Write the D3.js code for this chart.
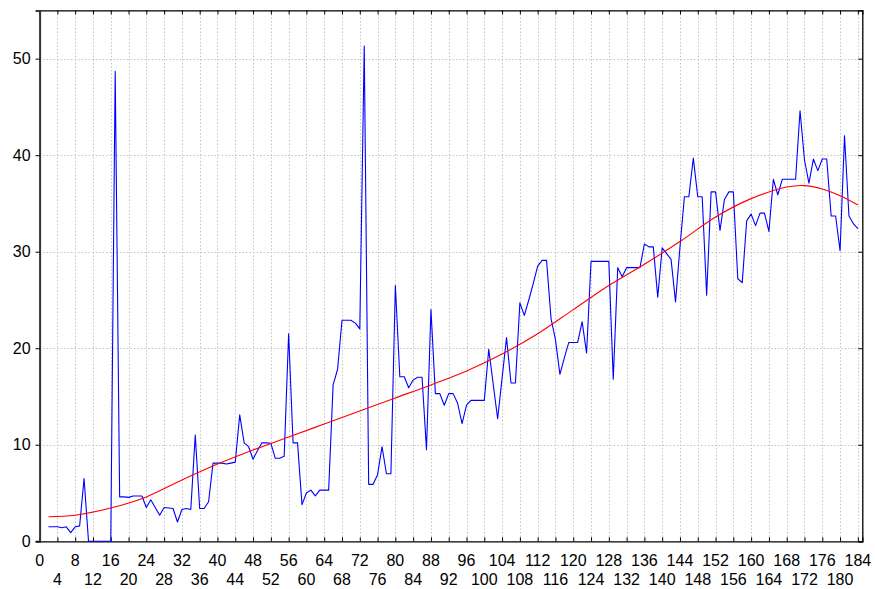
<!DOCTYPE html>
<html>
<head>
<meta charset="utf-8">
<script src="https://cdn.jsdelivr.net/npm/d3@7"></script>
<style>
  html, body { margin: 0; padding: 0; background: #fff; }
  svg { display: block; }
  text { font-family: "Liberation Sans", Arial, sans-serif; }
</style>
</head>
<body>
<svg id="chart" width="875" height="589"></svg>
<script>
// ---- data ----
const firstX = 2; // observed series starts at x = 2, one point per unit
const observed = [
  1.5, 1.5, 1.5, 1.4, 1.5, 0.9, 1.5, 1.6, 6.5, 0,        // 2-11
  0, 0, 0, 0, 0, 48.7, 4.6, 4.6, 4.55, 4.7,              // 12-21
  4.7, 4.7, 3.5, 4.3, 3.5, 2.7, 3.5, 3.45, 3.4, 2.0,     // 22-31
  3.3, 3.4, 3.3, 11.0, 3.4, 3.4, 4.1, 8.1, 8.1, 8.1,     // 32-41
  8.0, 8.1, 8.2, 13.1, 10.2, 9.8, 8.5, 9.4, 10.2, 10.2,  // 42-51
  10.15, 8.6, 8.6, 8.8, 21.5, 10.2, 10.2, 3.8, 5.0, 5.3, // 52-61
  4.7, 5.3, 5.3, 5.3, 16.2, 17.8, 22.9, 22.9, 22.9, 22.6,// 62-71
  22.0, 51.3, 5.9, 5.9, 6.9, 9.8, 7.0, 7.0, 26.5, 17.05, // 72-81
  17.05, 15.9, 16.7, 17.0, 17.0, 9.5, 24.0, 15.3, 15.3, 14.1, // 82-91
  15.3, 15.3, 14.3, 12.2, 14.1, 14.6, 14.6, 14.6, 14.6, 19.9, // 92-101
  16.3, 12.7, 16.9, 21.1, 16.4, 16.4, 24.7, 23.4, 25.0, 26.7, // 102-111
  28.5, 29.1, 29.1, 23.1, 20.9, 17.3, 19.0, 20.6, 20.6, 20.6, // 112-121
  22.75, 19.5, 29.0, 29.0, 29.0, 29.0, 29.0, 16.8, 28.35, 27.4, // 122-131
  28.35, 28.35, 28.35, 28.35, 30.8, 30.5, 30.5, 25.3, 30.4, 29.8, // 132-141
  29.2, 24.8, 30.5, 35.7, 35.7, 39.7, 35.7, 35.7, 25.5, 36.2, // 142-151
  36.2, 32.2, 35.4, 36.2, 36.2, 27.2, 26.8, 33.2, 33.9, 32.7, // 152-161
  34.0, 34.0, 32.1, 37.5, 35.9, 37.5, 37.5, 37.5, 37.5, 44.6, // 162-171
  39.5, 37.1, 39.6, 38.4, 39.6, 39.6, 33.7, 33.7, 30.1, 42.0, // 172-181
  33.7, 32.9, 32.4                                          // 182-184
];

const trendX = [2, 8, 16, 24, 32, 40, 48, 56, 64, 72, 80, 88, 96, 104, 112, 120, 128, 136, 144, 152, 160, 168, 172, 176, 180, 184];
const trendY = [2.55, 2.7, 3.45, 4.6, 6.35, 8.0, 9.46, 10.8, 12.15, 13.5, 14.85, 16.2, 17.65, 19.4, 21.5, 24.0, 26.5, 28.7, 31.05, 33.6, 35.5, 36.7, 36.85, 36.5, 35.8, 34.85];

const xTicks = [0,4,8,12,16,20,24,28,32,36,40,44,48,52,56,60,64,68,72,76,80,84,88,92,96,100,104,108,112,116,120,124,128,132,136,140,144,148,152,156,160,164,168,172,176,180,184];
const yTicks = [0, 10, 20, 30, 40, 50];

// ---- layout ----
const svg = d3.select("#chart");
const L = 39.6, R = 862.3, T = 10.4, B = 541.3;
const x = d3.scaleLinear().domain([0, 185]).range([L, R]);
const y = d3.scaleLinear().domain([0, 55]).range([B, T]);

// grid
const grid = svg.append("g").attr("stroke", "#c4c4c4").attr("stroke-width", 1).attr("stroke-dasharray", "1.5,2");
grid.selectAll("line.vx").data(xTicks.filter(d => d > 0)).enter().append("line")
  .attr("x1", d => Math.round(x(d)) + 0.5).attr("x2", d => Math.round(x(d)) + 0.5)
  .attr("y1", T).attr("y2", B);
grid.selectAll("line.hy").data(yTicks.filter(d => d > 0)).enter().append("line")
  .attr("y1", d => Math.round(y(d)) + 0.5).attr("y2", d => Math.round(y(d)) + 0.5)
  .attr("x1", L).attr("x2", R);

// axes (library axes, ticks pointing inward)
const xAxisB = d3.axisBottom(x).tickValues(xTicks).tickSize(-4).tickFormat("");
const gB = svg.append("g").attr("transform", `translate(0,${B})`).call(xAxisB);
const xAxisT = d3.axisTop(x).tickValues(xTicks).tickSize(-4).tickFormat("");
const gT = svg.append("g").attr("transform", `translate(0,${T})`).call(xAxisT);
const yAxisL = d3.axisLeft(y).tickValues(yTicks).tickSize(4).tickPadding(5).tickFormat(d3.format("d"));
const gL = svg.append("g").attr("transform", `translate(${L},0)`).call(yAxisL);
const yAxisR = d3.axisRight(y).tickValues(yTicks).tickSize(-4).tickFormat("");
const gR = svg.append("g").attr("transform", `translate(${R},0)`).call(yAxisR);

[gB, gT, gL, gR].forEach(g => {
  g.select(".domain").attr("stroke", "#000").attr("stroke-width", 1.3);
  g.selectAll(".tick line").attr("stroke", "#000");
});
gL.select(".domain").attr("stroke", "#333").attr("stroke-width", 2);
gL.selectAll(".tick text").attr("font-size", 16).attr("fill", "#000")
  .attr("font-family", "'Liberation Sans', Arial, sans-serif");

// two-row x labels
const labels = svg.append("g").attr("font-size", 16).attr("text-anchor", "middle").attr("fill", "#000");
labels.selectAll("text").data(xTicks).enter().append("text")
  .attr("x", d => x(d))
  .attr("y", (d, i) => i % 2 === 0 ? 566 : 585)
  .text(d => d);

// observed series
const obsData = observed.map((v, i) => [firstX + i, v]);
svg.append("path").datum(obsData)
  .attr("fill", "none").attr("stroke", "#0000ff").attr("stroke-width", 1.1)
  .attr("stroke-linejoin", "round")
  .attr("d", d3.line().x(d => x(d[0])).y(d => y(d[1])));

// fitted trend
const trendData = trendX.map((v, i) => [v, trendY[i]]);
svg.append("path").datum(trendData)
  .attr("fill", "none").attr("stroke", "#ff0000").attr("stroke-width", 1.1)
  .attr("d", d3.line().curve(d3.curveCatmullRom.alpha(0.5)).x(d => x(d[0])).y(d => y(d[1])));
</script>
</body>
</html>
